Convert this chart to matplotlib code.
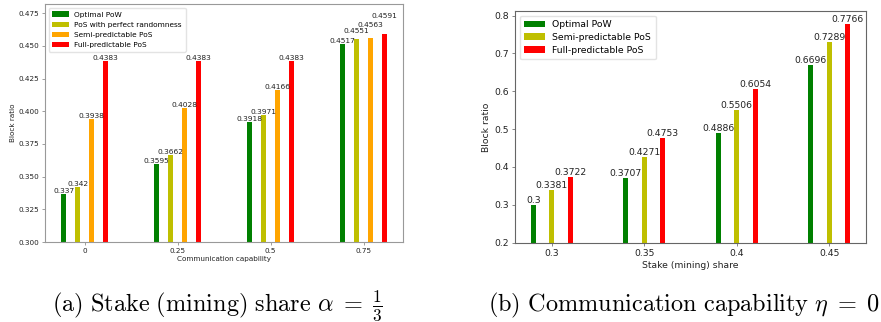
import matplotlib
matplotlib.use("Agg")
import matplotlib.pyplot as plt
import numpy as np

plt.rcParams['mathtext.fontset'] = 'cm'

# Panel (a)
comm_labels = ["0", "0.25", "0.5", "0.75"]
series_a_names = ["Optimal PoW", "PoS with perfect randomness",
                  "Semi-predictable PoS", "Full-predictable PoS"]
optimal_pow_a = [0.337, 0.3595, 0.3918, 0.4517]
pos_perfect_a = [0.342, 0.3662, 0.3971, 0.4551]
semi_pos_a = [0.3938, 0.4028, 0.4166, 0.4563]
full_pos_a = [0.4383, 0.4383, 0.4383, 0.4591]
colors_a = ["green", "y", "orange", "red"]

# Panel (b)
stake_labels = ["0.3", "0.35", "0.4", "0.45"]
series_b_names = ["Optimal PoW", "Semi-predictable PoS", "Full-predictable PoS"]
optimal_pow_b = [0.3, 0.3707, 0.4886, 0.6696]
semi_pos_b = [0.3381, 0.4271, 0.5506, 0.7289]
full_pos_b = [0.3722, 0.4753, 0.6054, 0.7766]
colors_b = ["green", "y", "red"]

fig = plt.figure(figsize=(8.81, 3.22), dpi=100)

# ---------- panel (a)
ax1 = fig.add_axes([0.0511, 0.2484, 0.4064, 0.7391])
x = np.arange(len(comm_labels))
w = 0.05
data_a = [optimal_pow_a, pos_perfect_a, semi_pos_a, full_pos_a]
offs_a = [-0.225, -0.075, 0.075, 0.225]
# label lift (points) used in the crowded last group, per series
lift_last = [0, 3.6, 7.2, 10.8]
fs_a = 5.4
for si, (vals, off, c, name) in enumerate(zip(data_a, offs_a, colors_a, series_a_names)):
    bars = ax1.bar(x + off, vals, w, color=c, label=name)
    for bi, (b, v) in enumerate(zip(bars, vals)):
        dy = lift_last[si] if bi == len(vals) - 1 else 0
        ax1.annotate(f"{v:g}", (b.get_x() + b.get_width() / 2, v),
                     xytext=(0, dy), textcoords='offset points',
                     ha='center', va='bottom', fontsize=fs_a, color='#222222')
ax1.set_ylim(0.3, 0.482)
ax1.set_xticks(x)
ax1.set_xticklabels(comm_labels)
ax1.set_yticks([0.3, 0.325, 0.35, 0.375, 0.4, 0.425, 0.45, 0.475])
ax1.set_yticklabels(["0.300", "0.325", "0.350", "0.375", "0.400", "0.425", "0.450", "0.475"])
ax1.tick_params(labelsize=5.2, length=2, width=0.5, color='#777777', labelcolor='#222222', pad=2)
ax1.set_xlabel("Communication capability", fontsize=5.2, color='#222222', labelpad=2)
ax1.set_ylabel("Block ratio", fontsize=5.2, color='#222222', labelpad=2)
for s in ax1.spines.values():
    s.set_color('#999999')
    s.set_linewidth(0.8)
ax1.legend(loc='upper left', fontsize=5.3, handlelength=2.2, borderpad=0.5,
           labelspacing=0.55, framealpha=0.8, edgecolor='#dddddd', fancybox=True)

# ---------- panel (b)
ax2 = fig.add_axes([0.5846, 0.2463, 0.3984, 0.7196])
data_b = [optimal_pow_b, semi_pos_b, full_pos_b]
offs_b = [-0.2, 0.0, 0.2]
fs_b = 6.7
for vals, off, c, name in zip(data_b, offs_b, colors_b, series_b_names):
    bars = ax2.bar(x + off, vals, w, color=c, label=name)
    for b, v in zip(bars, vals):
        ax2.text(b.get_x() + b.get_width() / 2, v, f"{v:g}", ha='center',
                 va='bottom', fontsize=fs_b, color='#222222')
ax2.set_ylim(0.2, 0.812)
ax2.set_xticks(x)
ax2.set_xticklabels(stake_labels)
ax2.set_yticks([0.2, 0.3, 0.4, 0.5, 0.6, 0.7, 0.8])
ax2.set_yticklabels(["0.2", "0.3", "0.4", "0.5", "0.6", "0.7", "0.8"])
ax2.tick_params(labelsize=fs_b, length=2.5, width=0.5, color='#555555', labelcolor='#222222', pad=2)
ax2.set_xlabel("Stake (mining) share", fontsize=fs_b, color='#222222', labelpad=2)
ax2.set_ylabel("Block ratio", fontsize=fs_b, color='#222222', labelpad=2)
for s in ax2.spines.values():
    s.set_color('#666666')
    s.set_linewidth(0.8)
ax2.legend(loc='upper left', fontsize=fs_b, handlelength=2.2, borderpad=0.5,
           labelspacing=0.4, framealpha=0.8, edgecolor='#dddddd', fancybox=True)

# ---------- captions
fig.text(0.247, 0.05, r'$\mathrm{(a)\ Stake\ (mining)\ share}\ \alpha\;=\;\frac{1}{3}$',
         ha='center', va='center', fontsize=17.5)
fig.text(0.776, 0.05, r'$\mathrm{(b)\ Communication\ capability}\ \eta\;=\;0$',
         ha='center', va='center', fontsize=17.5)

fig.savefig("out.png", dpi=100)
